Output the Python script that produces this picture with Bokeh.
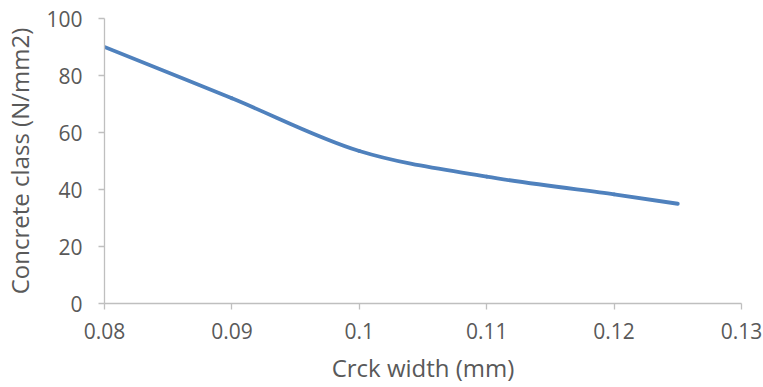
from bokeh.plotting import figure
from bokeh.models import ColumnDataSource, Range1d, FixedTicker, CustomJSTickFormatter
from bokeh.embed import file_html
from bokeh.resources import INLINE
import numpy as np

# Data
crack_width = [0.08, 0.09, 0.10, 0.11, 0.12, 0.125]
concrete_class = [90, 72, 53.5, 44.5, 38.3, 35]
x_ticks = [0.08, 0.09, 0.10, 0.11, 0.12, 0.13]
y_ticks = [0, 20, 40, 60, 80, 100]

# Excel-like smoothed line: cubic Bezier segments (Catmull-Rom control points)
xs = np.array(crack_width, dtype=float)
ys = np.array(concrete_class, dtype=float)
n = len(xs)
seg = dict(x0=[], y0=[], x1=[], y1=[], cx0=[], cy0=[], cx1=[], cy1=[])
for i in range(n - 1):
    ip = max(i - 1, 0)
    inn = min(i + 2, n - 1)
    seg["x0"].append(xs[i]); seg["y0"].append(ys[i])
    seg["x1"].append(xs[i + 1]); seg["y1"].append(ys[i + 1])
    seg["cx0"].append(xs[i] + (xs[i + 1] - xs[ip]) / 6)
    seg["cy0"].append(ys[i] + (ys[i + 1] - ys[ip]) / 6)
    seg["cx1"].append(xs[i + 1] - (xs[inn] - xs[i]) / 6)
    seg["cy1"].append(ys[i + 1] - (ys[inn] - ys[i]) / 6)
src = ColumnDataSource(seg)

FONT = "Open Sans"
TXT = "#595959"
AX = "#BFBFBF"

p = figure(width=763, height=387, output_backend="svg", toolbar_location=None,
           x_range=Range1d(0.08, 0.13), y_range=Range1d(0, 100),
           min_border_left=103, min_border_right=22, min_border_top=18, min_border_bottom=84)
p.outline_line_color = None
p.xgrid.grid_line_color = None
p.ygrid.grid_line_color = None
p.background_fill_color = "white"
p.border_fill_color = "white"

p.bezier(x0="x0", y0="y0", x1="x1", y1="y1", cx0="cx0", cy0="cy0", cx1="cx1", cy1="cy1",
         source=src, line_color="#4F81BD", line_width=3.8, line_cap="round")

for ax in (p.xaxis[0], p.yaxis[0]):
    ax.axis_line_color = AX
    ax.axis_line_width = 1.3
    ax.major_tick_line_color = AX
    ax.major_tick_line_width = 1.3
    ax.major_tick_in = 0
    ax.major_tick_out = 6
    ax.minor_tick_line_color = None
    ax.major_label_text_font = FONT
    ax.major_label_text_font_size = "21px"
    ax.major_label_text_color = TXT
    ax.axis_label_text_font = FONT
    ax.axis_label_text_font_size = "24px"
    ax.axis_label_text_font_style = "normal"
    ax.axis_label_text_color = TXT

p.xaxis.ticker = FixedTicker(ticks=x_ticks)
p.xaxis.formatter = CustomJSTickFormatter(code="return (Math.round(tick*100)/100).toString();")
p.yaxis.ticker = FixedTicker(ticks=y_ticks)
p.xaxis.axis_label = "Crck width (mm)"
p.yaxis.axis_label = "Concrete class (N/mm2)"
p.xaxis.major_label_standoff = 13
p.xaxis.axis_label_standoff = 9
p.yaxis.major_label_standoff = 16
p.yaxis.axis_label_standoff = 7

open("out.html", "w").write(file_html(p, INLINE))
